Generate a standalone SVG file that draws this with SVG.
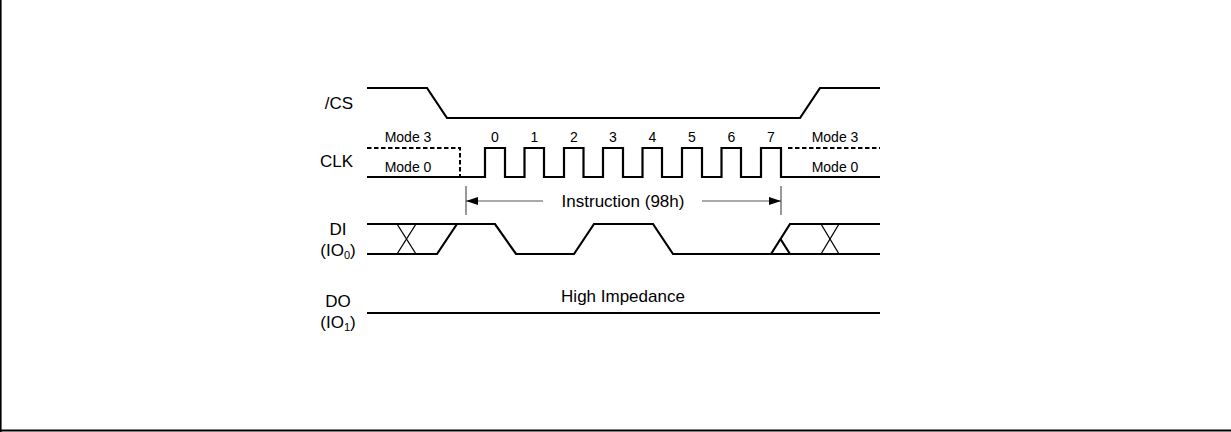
<svg xmlns="http://www.w3.org/2000/svg" width="1231" height="432" viewBox="0 0 1231 432">
<style>
text{font-family:"Liberation Sans",Arial,sans-serif;fill:#000}
.lbl{font-size:17px}
.sm{font-size:14px}
.sig{fill:none;stroke:#000;stroke-width:2.2;stroke-linejoin:miter}
.thin{fill:none;stroke:#000;stroke-width:1.3}
.dash{fill:none;stroke:#000;stroke-width:2;stroke-dasharray:4.5 2.5}
.dim{fill:none;stroke:#555;stroke-width:1.2}
</style>
<defs>
<marker id="ah" viewBox="0 0 12 8" refX="12" refY="4" markerWidth="12" markerHeight="8" markerUnits="userSpaceOnUse" orient="auto-start-reverse">
<path d="M0,0 L12,4 L0,8 Z" fill="#000"/>
</marker>
</defs>
<rect width="1231" height="432" fill="#fff"/>
<g id="frame">
<line x1="0.8" y1="0" x2="0.8" y2="432" stroke="#000" stroke-width="1.6"/>
<line x1="0" y1="430.6" x2="1231" y2="430.6" stroke="#000" stroke-width="2"/>
</g>
<g id="cs">
<text class="lbl" x="353" y="109" text-anchor="end">/CS</text>
<polyline class="sig" points="367,88 427,88 447,118 800,118 820,88 880,88"/>
</g>
<g id="clk">
<text class="lbl" x="353" y="167" text-anchor="end">CLK</text>
<text class="sm" x="408" y="142" text-anchor="middle">Mode 3</text>
<text class="sm" x="408" y="172" text-anchor="middle">Mode 0</text>
<text class="sm" x="835" y="142" text-anchor="middle">Mode 3</text>
<text class="sm" x="835" y="172" text-anchor="middle">Mode 0</text>
<polyline class="dash" points="367,148 460,148 460,177"/>
<line class="dash" x1="788" y1="148" x2="880" y2="148"/>
<polyline class="sig" points="367,177 485,177 485,148 505,148 505,177 524.5,177 524.5,148 544,148 544,177 564,177 564,148 583.5,148 583.5,177 603,177 603,148 623,148 623,177 642.5,177 642.5,148 662,148 662,177 682,177 682,148 702,148 702,177 721.5,177 721.5,148 741,148 741,177 761,177 761,148 781,148 781,177 880,177"/>
<g class="sm" text-anchor="middle">
<text class="sm" x="495" y="142">0</text>
<text class="sm" x="534.5" y="142">1</text>
<text class="sm" x="574" y="142">2</text>
<text class="sm" x="613" y="142">3</text>
<text class="sm" x="652.5" y="142">4</text>
<text class="sm" x="692" y="142">5</text>
<text class="sm" x="731.5" y="142">6</text>
<text class="sm" x="771" y="142">7</text>
</g>
</g>
<g id="connectors">
<line class="dim" x1="466" y1="186" x2="466" y2="215"/>
<line class="dim" x1="781" y1="186" x2="781" y2="215"/>
<line class="dim" x1="543" y1="201" x2="466" y2="201" marker-end="url(#ah)"/>
<line class="dim" x1="702" y1="201" x2="781" y2="201" marker-end="url(#ah)"/>
<text class="lbl" x="623" y="207" text-anchor="middle">Instruction (98h)</text>
</g>
<g id="di">
<text class="lbl" x="338" y="235" text-anchor="middle">DI</text>
<text class="lbl" x="338" y="256" text-anchor="middle">(IO<tspan font-size="11" dy="3">0</tspan><tspan dy="-3">)</tspan></text>
<polyline class="sig" points="367,224 495,224 516,254 574,254 594,224 653,224 673,254 880,254"/>
<polyline class="sig" points="367,254 437,254 457,224"/>
<polyline class="sig" points="771,254 790,224 880,224"/>
<line class="sig" x1="780.5" y1="239" x2="790" y2="254"/>
<line class="thin" x1="397" y1="224" x2="416" y2="254"/>
<line class="thin" x1="397" y1="254" x2="416" y2="224"/>
<line class="thin" x1="821" y1="224" x2="839" y2="254"/>
<line class="thin" x1="821" y1="254" x2="839" y2="224"/>
</g>
<g id="do">
<text class="lbl" x="338" y="307" text-anchor="middle">DO</text>
<text class="lbl" x="338" y="328" text-anchor="middle">(IO<tspan font-size="11" dy="3">1</tspan><tspan dy="-3">)</tspan></text>
<line class="sig" x1="367" y1="313" x2="880" y2="313"/>
<text class="lbl" x="623" y="302" text-anchor="middle">High Impedance</text>
</g>
</svg>
